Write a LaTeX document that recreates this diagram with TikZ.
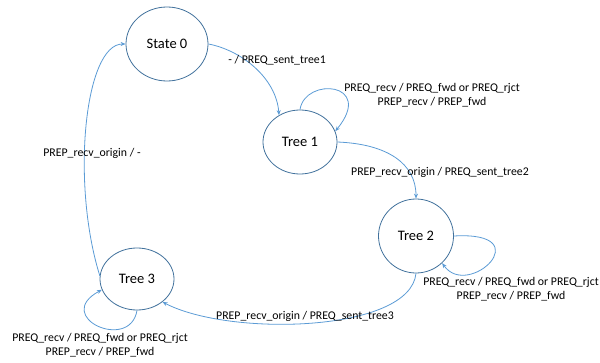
\documentclass[tikz,border=0pt]{standalone}
\usepackage{fontspec}
\setmainfont{Carlito}
\usetikzlibrary{shapes.geometric,arrows.meta,calc}
\definecolor{stroke}{HTML}{41719C}
\definecolor{edgec}{HTML}{5B9BD5}
\begin{document}
\begin{tikzpicture}[x=1pt,y=1pt,
  state/.style={ellipse,draw=stroke,line width=0.8pt,inner sep=0pt,font=\fontsize{14.5}{17}\selectfont},
  trans/.style={draw=edgec,line width=0.8pt,-{Stealth[length=5pt,width=4pt]}},
  lab/.style={font=\fontsize{11.8}{14}\selectfont,inner sep=0pt,align=center}]
\useasboundingbox (0,0) rectangle (600,362);
\node[state,minimum width=82pt,minimum height=74pt] (s0) at (167,318) {State 0};
\node[state,minimum width=74pt,minimum height=64pt] (t1) at (300,220) {Tree 1};
\node[state,minimum width=75pt,minimum height=74pt] (t2) at (416,126) {Tree 2};
\node[state,minimum width=74pt,minimum height=62pt] (t3) at (137,83) {Tree 3};
% transitions
\draw[trans] (s0.east) .. controls +(32,-6) and +(-3,38) .. (t1.128);
\node[lab] (l1) at (277,302) {- / PREQ\_sent\_tree1};
\draw[trans] (t1.north) .. controls +(5,33) and +(40,49) .. (t1.17);
\node[lab] (l2) at (432,267) {PREQ\_recv / PREQ\_fwd or PREQ\_rjct\\PREP\_recv / PREP\_fwd};
\draw[trans] (t1.east) .. controls +(50,-2) and +(0,35) .. (t2.north);
\node[lab] (l3) at (440,190) {PREP\_recv\_origin / PREQ\_sent\_tree2};
\draw[trans] (t2.east) .. controls +(87,5) and +(26,-37) .. (t2.-46);
\node[lab] (l4) at (511,73) {PREQ\_recv / PREQ\_fwd or PREQ\_rjct\\PREP\_recv / PREP\_fwd};
\draw[trans] (t2.south) .. controls +(-6,-59) and +(67,-35) .. (t3.-42);
\node[lab] (l5) at (305,46) {PREP\_recv\_origin / PREQ\_sent\_tree3};
\draw[trans] (t3.south) .. controls +(-7,-42) and +(-50,-27) .. (t3.197);
\node[lab] (l6) at (100,17) {PREQ\_recv / PREQ\_fwd or PREQ\_rjct\\PREP\_recv / PREP\_fwd};
\draw[trans] (t3.175) .. controls +(-29,93) and +(-41,0) .. (s0.west);
\node[lab] (l7) at (92,209) {PREP\_recv\_origin / -};
\end{tikzpicture}
\end{document}
